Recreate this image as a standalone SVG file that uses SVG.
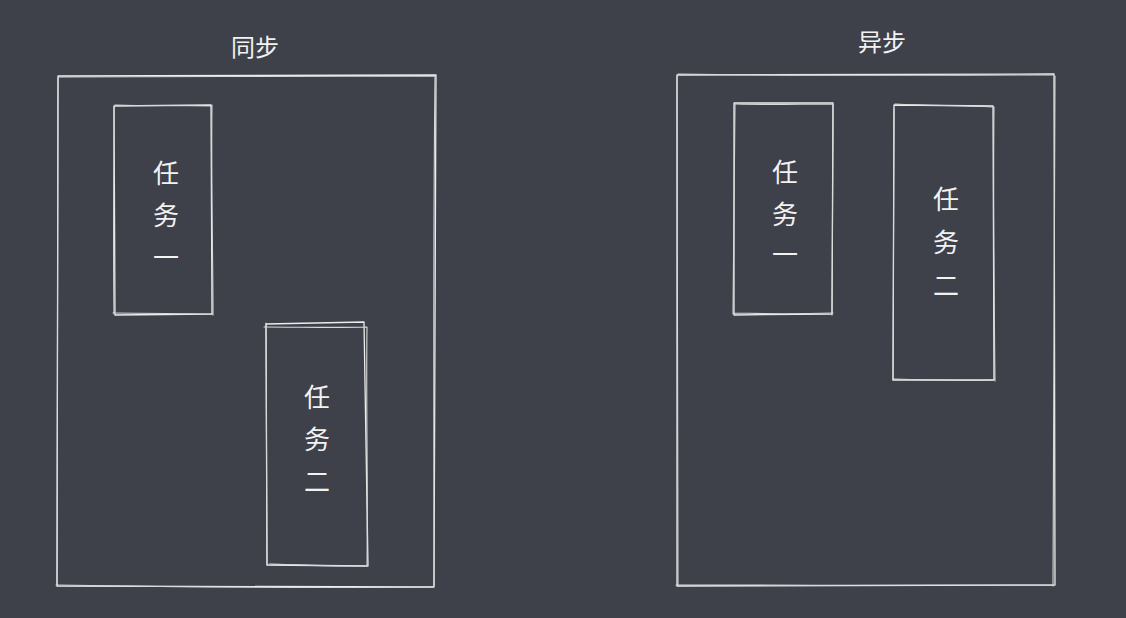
<svg xmlns="http://www.w3.org/2000/svg" width="1126" height="618" viewBox="0 0 1126 618">
<style>
.s{fill:none;stroke:#ececec;stroke-width:1.3;stroke-linecap:round;stroke-linejoin:round}
.s2{fill:none;stroke:#d8d8d8;stroke-width:1.1;stroke-linecap:round;stroke-linejoin:round}
.t{font-family:"Noto Sans CJK SC","Noto Sans",sans-serif;fill:#f2f2f2;text-anchor:middle;dominant-baseline:central}
.lbl{font-size:26px}
.ttl{font-size:24px}
</style>
<rect width="1126" height="618" fill="#3e414a"/>
<g id="sync">
  <text class="t ttl" x="255" y="45">同步</text>
  <g id="sync-frame">
    <path class="s" d="M58 76 L436 75 L434 587 L57 586 Z"/>
    <path class="s2" d="M59 77 C180 76 320 77 435 76 M435 77 C433 250 434 420 434 586 M433 587 C320 588 180 587 56 585 M57 586 C58 420 57 250 58 77"/>
  </g>
  <g id="sync-task1">
    <path class="s" d="M114 106 L211 105 L212 314 L115 315 Z"/>
    <path class="s2" d="M115 105 C150 106 180 105 212 106 M212 105 C211 180 213 260 213 315 M213 314 C180 314 150 313 113 313 M114 314 C113 240 114 170 114 107"/>
    <text class="t lbl" x="166" y="171">任</text>
    <text class="t lbl" x="166" y="213">务</text>
    <text class="t lbl" x="166" y="255">一</text>
  </g>
  <g id="sync-task2">
    <path class="s" d="M266 324 L364 322 L368 566 L267 565 Z"/>
    <path class="s2" d="M264 327 C300 327 335 328 367 327 M367 327 C366 400 368 480 367 565 M365 566 C330 566 300 565 269 564 M267 565 C266 480 266 400 266 323"/>
    <text class="t lbl" x="317" y="395">任</text>
    <text class="t lbl" x="317" y="437">务</text>
    <text class="t lbl" x="317" y="479">二</text>
  </g>
</g>
<g id="async">
  <text class="t ttl" x="882" y="40">异步</text>
  <g id="async-frame">
    <path class="s" d="M677 75 L1054 74 L1055 585 L677 586 Z"/>
    <path class="s2" d="M678 74 C800 76 940 75 1053 75 M1055 76 C1053 250 1054 420 1053 586 M1053 585 C940 586 800 585 676 585 M678 586 C677 420 678 250 677 76"/>
  </g>
  <g id="async-task1">
    <path class="s" d="M734 103 L833 103 L832 314 L734 315 Z"/>
    <path class="s2" d="M736 104 C770 105 800 104 833 104 M833 104 C833 180 832 260 832 315 M833 313 C800 314 770 314 733 313 M733 314 C734 240 734 170 735 104"/>
    <text class="t lbl" x="785" y="170">任</text>
    <text class="t lbl" x="785" y="212">务</text>
    <text class="t lbl" x="785" y="252">一</text>
  </g>
  <g id="async-task2">
    <path class="s" d="M894 105 L993 106 L994 380 L893 380 Z"/>
    <path class="s2" d="M895 104 C930 106 960 105 993 107 M994 107 C993 200 994 290 995 381 M993 380 C960 381 930 380 894 379 M893 380 C894 290 893 200 894 109"/>
    <text class="t lbl" x="946" y="197">任</text>
    <text class="t lbl" x="946" y="240">务</text>
    <text class="t lbl" x="946" y="283">二</text>
  </g>
</g>
</svg>
